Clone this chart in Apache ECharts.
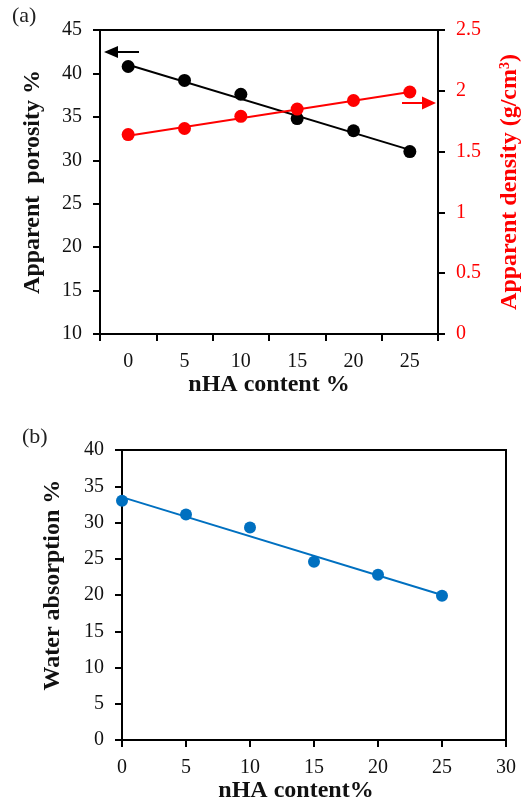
<!DOCTYPE html>
<html>
<head>
<meta charset="utf-8">
<script src="https://cdn.jsdelivr.net/npm/echarts@6/dist/echarts.min.js"></script>
<style>html,body{margin:0;padding:0;background:#fff}#c{width:530px;height:804px}</style>
</head>
<body>
<div id="c"></div>
<script>
// ---- data ----
var categories = ['0', '5', '10', '15', '20', '25'];
var porosity = [40.8, 39.2, 37.6, 34.8, 33.4, 31.0];
var density = [1.64, 1.69, 1.79, 1.85, 1.92, 1.99];
var porosityTrend = [41.0, 31.2];   // trendline ends at 0 and 25
var densityTrend = [1.63, 1.99];
var contentB = [0, 5, 10, 15, 20, 25];
var waterAbs = [33.0, 31.1, 29.3, 24.6, 22.8, 19.9];
var waterTrend = [33.5, 20.0];

var FONT = '"Liberation Serif", "Times New Roman", serif';
var chart = echarts.init(document.getElementById('c'), null, {renderer: 'canvas'});
var TICK = 20;

function axisBase(color) {
  return {
    axisLine: {show: true, lineStyle: {color: '#000', width: 2}},
    axisTick: {show: true, inside: false, length: 7, lineStyle: {color: '#000', width: 2}},
    splitLine: {show: false},
    axisLabel: {color: color || '#111', fontFamily: FONT, fontSize: TICK}
  };
}

var option = {
  animation: false,
  backgroundColor: '#fff',
  grid: [
    {left: 100, top: 30, width: 340, height: 304, show: true, borderColor: '#000', borderWidth: 2},
    {left: 122, top: 450, width: 384, height: 291, show: true, borderColor: '#000', borderWidth: 2}
  ],
  xAxis: [
    Object.assign(axisBase(), {
      type: 'category', gridIndex: 0, data: categories, boundaryGap: true,
      axisTick: {show: true, inside: false, length: 7, alignWithLabel: false, interval: 0, lineStyle: {color: '#000', width: 2}},
      axisLabel: {color: '#111', fontFamily: FONT, fontSize: TICK, margin: 18, interval: 0},
      name: 'nHA content %', nameLocation: 'middle', nameGap: 35,
      nameTextStyle: {color: '#111', fontFamily: FONT, fontSize: 24, fontWeight: 'bold'}
    }),
    Object.assign(axisBase(), {
      type: 'value', gridIndex: 1, min: 0, max: 30, interval: 5,
      axisLabel: {color: '#111', fontFamily: FONT, fontSize: TICK, margin: 18},
      name: 'nHA content%', nameLocation: 'middle', nameGap: 38,
      nameTextStyle: {color: '#111', fontFamily: FONT, fontSize: 24, fontWeight: 'bold', padding: [0, 36, 0, 0]}
    })
  ],
  yAxis: [
    Object.assign(axisBase(), {
      type: 'value', gridIndex: 0, min: 10, max: 45, interval: 5, position: 'left',
      axisLabel: {color: '#111', fontFamily: FONT, fontSize: TICK, margin: 18},
      name: 'Apparent  porosity %', nameLocation: 'middle', nameGap: 55, nameRotate: 90,
      nameTextStyle: {color: '#111', fontFamily: FONT, fontSize: 24, fontWeight: 'bold'}
    }),
    Object.assign(axisBase(), {
      type: 'value', gridIndex: 0, min: 0, max: 2.5, interval: 0.5, position: 'right',
      axisLabel: {color: '#ff0000', fontFamily: FONT, fontSize: TICK, margin: 18},
      name: 'Apparent density (g/cm{sup|3})', nameLocation: 'middle', nameGap: 60, nameRotate: 90,
      nameTextStyle: {color: '#ff0000', fontFamily: FONT, fontSize: 24, fontWeight: 'bold',
        rich: {sup: {color: '#ff0000', fontFamily: FONT, fontSize: 14, fontWeight: 'bold', verticalAlign: 'top', padding: [0, 0, 10, 0]}}}
    }),
    Object.assign(axisBase(), {
      type: 'value', gridIndex: 1, min: 0, max: 40, interval: 5,
      axisLabel: {color: '#111', fontFamily: FONT, fontSize: TICK, margin: 18},
      name: 'Water absorption %', nameLocation: 'middle', nameGap: 57, nameRotate: 90,
      nameTextStyle: {color: '#111', fontFamily: FONT, fontSize: 24, fontWeight: 'bold', padding: [0, 0, 0, 20]}
    })
  ],
  series: [
    {type: 'line', xAxisIndex: 0, yAxisIndex: 0, data: [[0, porosityTrend[0]], [categories.length - 1, porosityTrend[1]]],
     showSymbol: false, symbol: 'none', lineStyle: {color: '#000', width: 2}, z: 2},
    {type: 'scatter', xAxisIndex: 0, yAxisIndex: 0, data: porosity, symbolSize: 13, itemStyle: {color: '#000', opacity: 1}, z: 3},
    {type: 'line', xAxisIndex: 0, yAxisIndex: 1, data: [[0, densityTrend[0]], [categories.length - 1, densityTrend[1]]],
     showSymbol: false, symbol: 'none', lineStyle: {color: '#ff0000', width: 2}, z: 2},
    {type: 'scatter', xAxisIndex: 0, yAxisIndex: 1, data: density, symbolSize: 13, itemStyle: {color: '#ff0000', opacity: 1}, z: 3},
    {type: 'line', xAxisIndex: 1, yAxisIndex: 2, data: [[contentB[0], waterTrend[0]], [contentB[contentB.length - 1], waterTrend[1]]],
     showSymbol: false, symbol: 'none', lineStyle: {color: '#0070c0', width: 2}, z: 2},
    {type: 'scatter', xAxisIndex: 1, yAxisIndex: 2, data: contentB.map(function (x, i) { return [x, waterAbs[i]]; }),
     symbolSize: 12, itemStyle: {color: '#0070c0', opacity: 1}, z: 3}
  ],
  graphic: [
    {type: 'text', left: 12, top: 5, style: {text: '(a)', fill: '#222', font: '22px ' + FONT}},
    {type: 'text', left: 22, top: 426, style: {text: '(b)', fill: '#222', font: '22px ' + FONT}},
    {type: 'line', shape: {x1: 116, y1: 52, x2: 139, y2: 52}, style: {stroke: '#000', lineWidth: 2}},
    {type: 'polygon', shape: {points: [[104, 52], [118, 46], [118, 58]]}, style: {fill: '#000'}},
    {type: 'line', shape: {x1: 402, y1: 103, x2: 424, y2: 103}, style: {stroke: '#ff0000', lineWidth: 2}},
    {type: 'polygon', shape: {points: [[436, 103], [422, 96.5], [422, 109.5]]}, style: {fill: '#ff0000'}}
  ]
};
chart.setOption(option);
</script>
</body>
</html>
